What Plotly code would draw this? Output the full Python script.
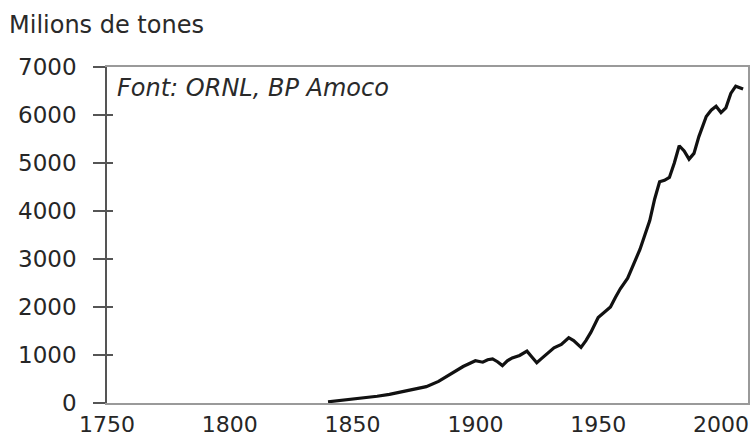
import plotly.graph_objects as go

years = [1840, 1845, 1850, 1855, 1860, 1865, 1870, 1875, 1880, 1885, 1890, 1893, 1895,
         1900, 1903, 1905, 1907, 1909, 1911, 1913, 1915, 1918, 1921, 1923, 1925, 1927,
         1930, 1932, 1935, 1938, 1940, 1943, 1945, 1947, 1950, 1953, 1955, 1957, 1959,
         1962, 1965, 1967, 1969, 1971, 1973, 1975, 1977, 1979, 1981, 1983, 1985, 1987,
         1989, 1991, 1994, 1996, 1998, 2000, 2002, 2004, 2006, 2009]
values = [25, 50, 90, 115, 140, 180, 230, 290, 340, 450, 600, 700, 760,
          880, 850, 900, 920, 860, 780, 880, 940, 990, 1080, 960, 840, 930,
          1060, 1150, 1220, 1360, 1300, 1160, 1300, 1470, 1780, 1900, 2000, 2200, 2380,
          2600, 2950, 3200, 3500, 3800, 4250, 4610, 4640, 4700, 5000, 5360, 5250, 5080,
          5200, 5550, 5970, 6100, 6180, 6050, 6150, 6450, 6600, 6540]

x_ticks = [1750, 1800, 1850, 1900, 1950, 2000]
y_ticks = [0, 1000, 2000, 3000, 4000, 5000, 6000, 7000]

title_text = "Milions de tones"
source_text = "Font: ORNL, BP Amoco"

FONT = "DejaVu Sans"

fig = go.Figure()
fig.add_trace(go.Scatter(x=years, y=values, mode="lines",
                         line=dict(color="#111111", width=3.2, shape="linear"),
                         hoverinfo="skip", showlegend=False))
fig.add_trace(go.Scatter(x=[years[0]], y=[None], yaxis="y2", showlegend=False, hoverinfo="skip"))
fig.add_trace(go.Scatter(x=[years[0]], y=[None], yaxis="y3", showlegend=False, hoverinfo="skip"))

fig.update_layout(
    width=755, height=440,
    margin=dict(l=107, r=7, t=67, b=37, autoexpand=False),
    paper_bgcolor="white", plot_bgcolor="white",
    xaxis=dict(range=[1750, 2011], tickvals=x_ticks, ticktext=[str(v) for v in x_ticks],
               automargin=False,
               showgrid=False, zeroline=False, showline=True, linecolor="#9a9a9a",
               linewidth=1.5, mirror=True, ticks="", ticklabelstandoff=1,
               tickfont=dict(family=FONT, size=22, color="#262626")),
    yaxis=dict(range=[0, 7000], tickvals=y_ticks, ticktext=[str(v) for v in y_ticks],
               automargin=False,
               showgrid=False, zeroline=False, showline=True, linecolor="#555555",
               linewidth=1.5, ticks="outside", ticklen=12, tickwidth=1.5, tickcolor="#555555",
               ticklabelstandoff=12,
               tickfont=dict(family=FONT, size=23, color="#262626")),
    yaxis2=dict(range=[0, 7000], tickvals=y_ticks, overlaying="y", side="left",
                automargin=False,
                showgrid=False, zeroline=False, showline=False, showticklabels=False,
                ticks="inside", ticklen=6, tickwidth=1.5, tickcolor="#555555"),
    yaxis3=dict(range=[0, 7000], overlaying="y", side="right", automargin=False,
                showgrid=False, zeroline=False, showline=True, linecolor="#9a9a9a",
                linewidth=1.5, showticklabels=False, ticks=""),
    annotations=[
        dict(text=title_text, xref="paper", yref="paper", x=-100/641, y=1 + 42/336,
             xanchor="left", yanchor="middle", showarrow=False,
             font=dict(family=FONT, size=24, color="#2a2a2a")),
        dict(text=source_text, xref="paper", yref="paper", x=8/641, y=1 - 21/336,
             xanchor="left", yanchor="middle", showarrow=False,
             font=dict(family=FONT, size=24, color="#2a2a2a", style="italic")),
    ],
)

fig.write_html("out.html", config={"displayModeBar": False},
               post_script="document.body.style.margin='0px';document.body.style.overflow='hidden';")
